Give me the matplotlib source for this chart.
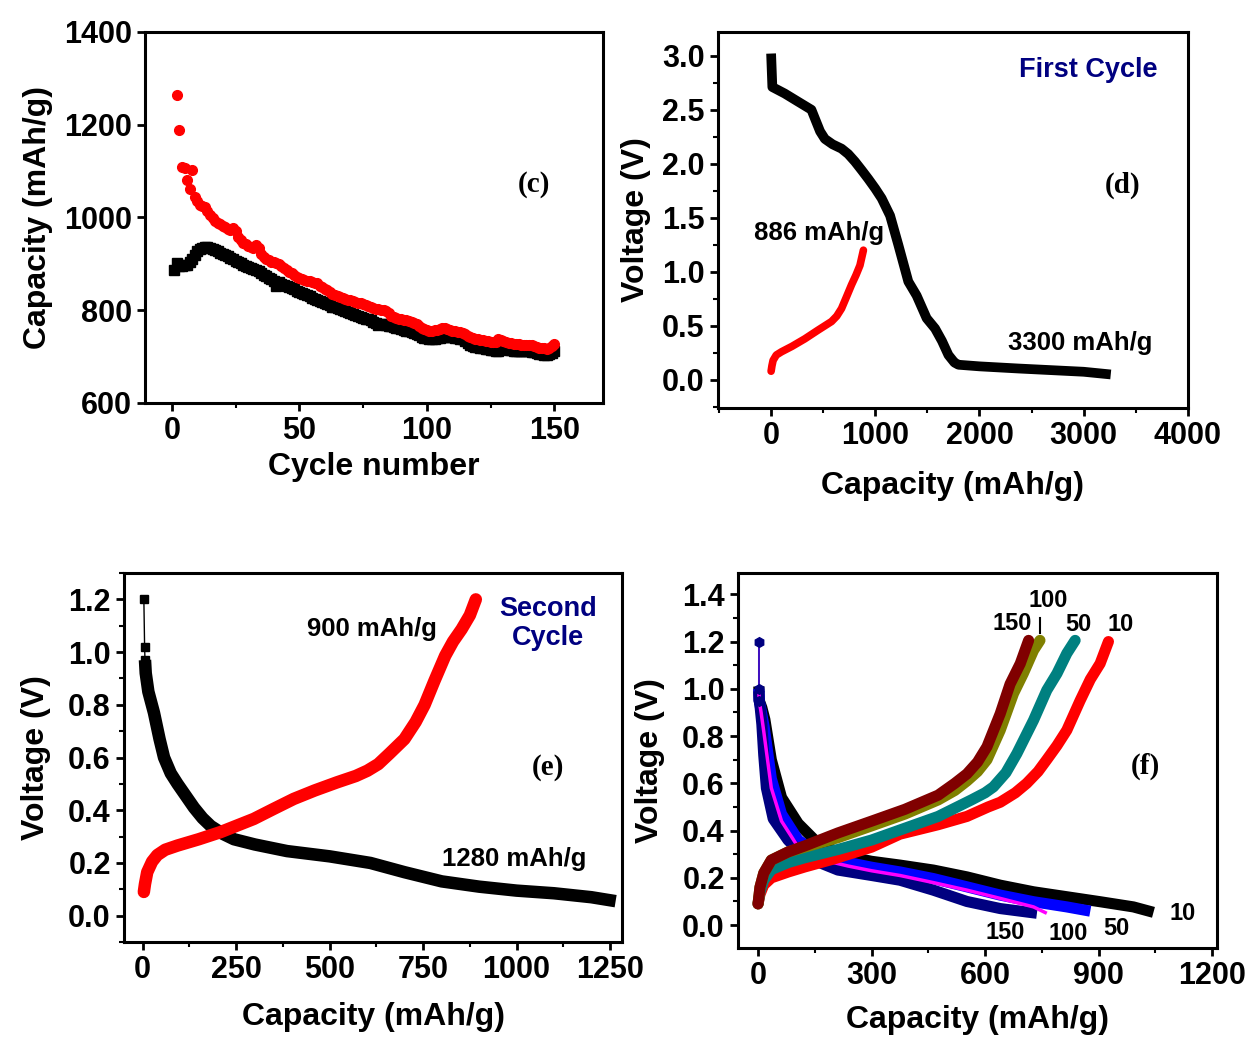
import numpy as np
import matplotlib
matplotlib.use('Agg')
import matplotlib.pyplot as plt
from matplotlib.ticker import MultipleLocator

plt.rcParams['font.family'] = ['Liberation Sans', 'DejaVu Sans']
plt.rcParams['font.weight'] = 'bold'

# ---- panel (c): capacity vs cycle number
cyc_dis = np.arange(1, 151)
cap_dis = [887, 902, 896, 895, 897, 898, 903, 910, 920, 928,
           932, 935, 937, 936, 934, 932, 930, 927, 924, 922,
           919, 916, 913, 910, 907, 904, 901, 898, 896, 893,
           891, 889, 887, 884, 880, 876, 873, 870, 867, 864,
           852, 860, 857, 855, 852, 850, 848, 845, 842, 840,
           838, 835, 832, 830, 827, 824, 822, 820, 818, 815,
           813, 811, 808, 806, 804, 802, 800, 798, 796, 794,
           792, 790, 788, 786, 784, 782, 780, 778, 775, 772,
           768, 770, 770, 768, 766, 765, 764, 762, 761, 760,
           758, 756, 755, 753, 751, 749, 746, 743, 741, 740,
           739, 739, 739, 740, 741, 742, 743, 744, 743, 742,
           741, 740, 739, 737, 733, 729, 726, 723, 721, 720,
           719, 718, 717, 716, 715, 714, 713, 712, 718, 717,
           716, 715, 714, 713, 713, 712, 712, 712, 711, 711,
           710, 709, 707, 706, 705, 704, 704, 705, 708, 711]
cyc_chg = np.arange(2, 151)
cap_chg = [1263, 1189, 1108, 1106, 1081, 1061, 1102, 1045, 1036,
           1027, 1024, 1023, 1014, 1005, 999, 993, 989, 985, 982,
           980, 975, 972, 977, 970, 958, 951, 946, 942, 939,
           937, 935, 941, 935, 922, 915, 911, 908, 905, 903,
           901, 899, 895, 890, 886, 883, 880, 876, 872, 869,
           868, 866, 864, 862, 860, 858, 859, 852, 849, 846,
           843, 840, 836, 833, 831, 829, 827, 825, 823, 822,
           820, 818, 816, 815, 813, 811, 809, 806, 804, 803,
           802, 801, 800, 799, 793, 788, 786, 784, 782, 780,
           779, 778, 777, 775, 773, 770, 766, 762, 759, 757,
           756, 756, 757, 758, 760, 761, 761, 760, 758, 756,
           755, 754, 753, 751, 748, 745, 743, 741, 739, 737,
           736, 735, 734, 733, 732, 731, 731, 739, 736, 733,
           731, 730, 729, 728, 727, 727, 726, 726, 726, 725,
           724, 722, 720, 719, 718, 718, 717, 719, 723, 727]

# ---- panel (d): first cycle
d_dis_cap = [0, 12, 131, 250, 387, 420, 470, 516, 590, 676, 740, 805, 870, 933,
             1000, 1061, 1142, 1221, 1317, 1397, 1493, 1574, 1640, 1702, 1760, 1798,
             2000, 2375, 3000, 3260]
d_dis_v = [3.02, 2.71, 2.65, 2.58, 2.50, 2.42, 2.30, 2.23, 2.18, 2.14, 2.09, 2.02,
           1.94, 1.86, 1.77, 1.68, 1.52, 1.25, 0.91, 0.78, 0.57, 0.475, 0.36, 0.23,
           0.16, 0.14, 0.125, 0.105, 0.075, 0.05]
d_chg_cap = [0, 8, 19, 50, 100, 200, 324, 450, 580, 630, 676, 720, 772, 815, 853, 886]
d_chg_v = [0.08, 0.13, 0.18, 0.23, 0.26, 0.31, 0.38, 0.46, 0.54, 0.59, 0.66, 0.76,
           0.88, 0.97, 1.06, 1.20]

# ---- panel (e): second cycle
e_dis_cap = [3, 5, 6, 8, 15, 30, 45, 57, 75, 93, 115, 137, 160, 182, 215, 244, 300, 386,
             500, 609, 700, 800, 900, 1000, 1100, 1200, 1265]
e_dis_v = [1.20, 1.02, 0.97, 0.92, 0.85, 0.77, 0.67, 0.60, 0.54, 0.50, 0.455, 0.41,
           0.37, 0.34, 0.31, 0.29, 0.27, 0.245, 0.225, 0.20, 0.165, 0.13, 0.11, 0.095,
           0.085, 0.07, 0.055]
e_chg_cap = [3, 6, 12, 25, 39, 60, 93, 150, 208, 297, 350, 404, 460, 520, 570, 601,
             630, 660, 700, 730, 754, 780, 809, 830, 853, 875, 891]
e_chg_v = [0.09, 0.12, 0.165, 0.205, 0.23, 0.25, 0.266, 0.29, 0.317, 0.367, 0.405,
           0.443, 0.475, 0.506, 0.53, 0.55, 0.575, 0.615, 0.67, 0.735, 0.80, 0.89,
           0.986, 1.04, 1.087, 1.14, 1.20]

# ---- panel (f): cycles 10, 50, 100, 150
f_labels = ['10', '50', '100', '150']
f_dis_cap = [
    [2, 2, 3, 10, 18, 35, 62, 106, 159, 238, 300, 375, 463, 552, 640, 728, 816, 904, 992, 1045],
    [2, 2, 3, 9, 16, 35, 62, 106, 159, 238, 300, 375, 463, 552, 640, 728, 816, 878],
    [2, 2, 3, 8, 15, 35, 62, 106, 159, 238, 300, 375, 463, 552, 640, 728, 763],
    [2, 2, 3, 5, 10, 15, 22, 40, 79, 123, 211, 300, 375, 463, 552, 640, 737],
]
f_dis_v = [
    [1.20, 1.01, 0.95, 0.92, 0.87, 0.70, 0.54, 0.43, 0.345, 0.29, 0.27, 0.254, 0.233, 0.204, 0.169, 0.141, 0.12, 0.099, 0.077, 0.054],
    [1.20, 1.0, 0.95, 0.90, 0.84, 0.62, 0.47, 0.36, 0.30, 0.265, 0.245, 0.225, 0.197, 0.162, 0.127, 0.099, 0.077, 0.059],
    [1.20, 1.0, 0.95, 0.90, 0.82, 0.58, 0.44, 0.33, 0.28, 0.25, 0.23, 0.21, 0.18, 0.148, 0.113, 0.077, 0.05],
    [1.20, 0.99, 0.95, 0.93, 0.85, 0.72, 0.58, 0.45, 0.36, 0.29, 0.233, 0.21, 0.19, 0.148, 0.10, 0.07, 0.05],
]
f_chg_cap = [
    [0, 5, 15, 35, 80, 123, 200, 300, 375, 476, 552, 608, 640, 680, 710, 740, 763, 790, 816, 851, 878, 904, 926],
    [0, 5, 15, 35, 80, 123, 211, 300, 388, 476, 564, 600, 622, 655, 684, 728, 763, 790, 816, 838],
    [0, 5, 15, 35, 80, 123, 211, 300, 388, 476, 520, 552, 580, 605, 640, 675, 701, 728, 745],
    [0, 5, 15, 35, 80, 123, 211, 300, 388, 476, 520, 552, 580, 605, 640, 666, 693, 715],
]
f_chg_v = [
    [0.09, 0.13, 0.17, 0.20, 0.225, 0.246, 0.28, 0.33, 0.385, 0.425, 0.46, 0.50, 0.52, 0.56, 0.60, 0.65, 0.70, 0.76, 0.825, 0.95, 1.04, 1.107, 1.20],
    [0.09, 0.14, 0.19, 0.235, 0.265, 0.285, 0.32, 0.36, 0.41, 0.46, 0.53, 0.56, 0.585, 0.645, 0.726, 0.867, 0.994, 1.065, 1.15, 1.205],
    [0.09, 0.16, 0.22, 0.275, 0.31, 0.33, 0.37, 0.42, 0.47, 0.53, 0.57, 0.61, 0.65, 0.70, 0.825, 0.98, 1.065, 1.163, 1.205],
    [0.09, 0.16, 0.22, 0.275, 0.31, 0.335, 0.39, 0.44, 0.49, 0.55, 0.60, 0.64, 0.69, 0.755, 0.895, 1.02, 1.107, 1.205],
]
f_dis_colors = ['black', '#0000ff', '#ff00ff', '#000080']
f_chg_colors = ['#ff0000', '#008080', '#808000', '#800000']
f_dis_widths = [8, 8, 2.5, 8]

TICK = 22
LAB = 23
NOTE = 18.5
NAVY = '#000080'


def style(ax):
    for s in ax.spines.values():
        s.set_linewidth(2.2)
    ax.tick_params(which='major', direction='out', length=6, width=2, labelsize=TICK,
                   top=False, right=False)
    ax.tick_params(which='minor', direction='out', length=3.5, width=1.5,
                   top=False, right=False)
    for lab in ax.get_xticklabels() + ax.get_yticklabels():
        lab.set_fontweight('bold')


fig = plt.figure(figsize=(12.53, 10.37), dpi=100)

# (c)
ax = fig.add_axes([0.1157, 0.6114, 0.3655, 0.3578])
ax.plot(cyc_dis, cap_dis, 's', color='black', markersize=6.5, zorder=2)
ax.plot(cyc_chg, cap_chg, 'o', color='red', markersize=7, zorder=3)
ax.set_xlim(-10.5, 169)
ax.set_ylim(600, 1400)
ax.xaxis.set_major_locator(MultipleLocator(50))
ax.xaxis.set_minor_locator(MultipleLocator(25))
ax.yaxis.set_major_locator(MultipleLocator(200))
ax.set_xlabel('Cycle number', fontsize=LAB, fontweight='bold', labelpad=4)
ax.set_ylabel('Capacity (mAh/g)', fontsize=LAB, fontweight='bold', labelpad=8)
ax.text(142, 1070, '(c)', fontsize=21, fontweight='bold', family='Liberation Serif',
        ha='center', va='center')
style(ax)

# (d)
ax = fig.add_axes([0.573, 0.6066, 0.375, 0.3626])
ax.plot(d_dis_cap, d_dis_v, '-', color='black', lw=7, solid_capstyle='butt')
ax.plot(d_chg_cap, d_chg_v, '-', color='red', lw=5.5, solid_capstyle='round')
ax.set_xlim(-510, 4000)
ax.set_ylim(-0.26, 3.22)
ax.xaxis.set_major_locator(MultipleLocator(1000))
ax.xaxis.set_minor_locator(MultipleLocator(500))
ax.yaxis.set_major_locator(MultipleLocator(0.5))
ax.yaxis.set_minor_locator(MultipleLocator(0.25))
ax.yaxis.set_major_formatter(plt.FormatStrFormatter('%.1f'))
ax.set_xlabel('Capacity (mAh/g)', fontsize=LAB, fontweight='bold', labelpad=14)
ax.set_ylabel('Voltage (V)', fontsize=LAB, fontweight='bold', labelpad=8)
ax.text(3048, 2.87, 'First Cycle', fontsize=19.5, fontweight='bold', color=NAVY,
        ha='center', va='center')
ax.text(462, 1.36, '886 mAh/g', fontsize=NOTE, fontweight='bold', ha='center', va='center')
ax.text(2962, 0.34, '3300 mAh/g', fontsize=NOTE, fontweight='bold', ha='center', va='center')
ax.text(3375, 1.80, '(d)', fontsize=21, fontweight='bold', family='Liberation Serif',
        ha='center', va='center')
style(ax)

# (e)
ax = fig.add_axes([0.099, 0.0916, 0.3974, 0.3558])
ax.plot(e_dis_cap[:3], e_dis_v[:3], '-s', color='black', lw=1, markersize=6)
ax.plot(e_dis_cap[2:], e_dis_v[2:], '-', color='black', lw=9, solid_capstyle='butt')
ax.plot(e_chg_cap, e_chg_v, '-', color='red', lw=9, solid_capstyle='round')
ax.set_xlim(-50, 1282)
ax.set_ylim(-0.10, 1.30)
ax.xaxis.set_major_locator(MultipleLocator(250))
ax.xaxis.set_minor_locator(MultipleLocator(125))
ax.yaxis.set_major_locator(MultipleLocator(0.2))
ax.yaxis.set_minor_locator(MultipleLocator(0.1))
ax.yaxis.set_major_formatter(plt.FormatStrFormatter('%.1f'))
ax.set_xlabel('Capacity (mAh/g)', fontsize=LAB, fontweight='bold', labelpad=12)
ax.set_ylabel('Voltage (V)', fontsize=LAB, fontweight='bold', labelpad=12)
ax.text(614, 1.087, '900 mAh/g', fontsize=NOTE, fontweight='bold', ha='center', va='center')
ax.text(1084, 1.107, 'Second\nCycle', fontsize=19.5, fontweight='bold', color=NAVY,
        ha='center', va='center', linespacing=1.15)
ax.text(1084, 0.564, '(e)', fontsize=21, fontweight='bold', family='Liberation Serif',
        ha='center', va='center')
ax.text(994, 0.216, '1280 mAh/g', fontsize=NOTE, fontweight='bold', ha='center', va='center')
style(ax)

# (f)
ax = fig.add_axes([0.589, 0.0858, 0.3823, 0.3616])
for i in range(4):
    x = f_dis_cap[i]
    y = f_dis_v[i]
    ax.plot(x[:3], y[:3], '-', color='#4010c0', lw=1.2, zorder=2)
    ax.plot(x[1:], y[1:], '-', color=f_dis_colors[i], lw=f_dis_widths[i],
            solid_capstyle='butt', zorder=2 + (i == 2) * 0.5)
ax.plot([2, 2, 3], [1.2, 1.0, 0.95], 'h', color=NAVY, markersize=7, zorder=4)
for i in range(4):
    ax.plot(f_chg_cap[i], f_chg_v[i], '-', color=f_chg_colors[i], lw=8,
            solid_capstyle='round', zorder=3)
ax.set_xlim(-53, 1213)
ax.set_ylim(-0.097, 1.49)
ax.xaxis.set_major_locator(MultipleLocator(300))
ax.xaxis.set_minor_locator(MultipleLocator(150))
ax.yaxis.set_major_locator(MultipleLocator(0.2))
ax.yaxis.set_minor_locator(MultipleLocator(0.1))
ax.yaxis.set_major_formatter(plt.FormatStrFormatter('%.1f'))
ax.set_xlabel('Capacity (mAh/g)', fontsize=LAB, fontweight='bold', labelpad=10)
ax.set_ylabel('Voltage (V)', fontsize=LAB, fontweight='bold', labelpad=12)
top_pos = [(957, 1.273), (846, 1.273), (767, 1.375), (671, 1.277)]
bot_pos = [(1121, 0.05), (946, -0.013), (819, -0.034), (653, -0.03)]
for lab, (tx, ty), (bx, by) in zip(f_labels, top_pos, bot_pos):
    ax.text(tx, ty, lab, fontsize=17, fontweight='bold', ha='center', va='center')
    ax.text(bx, by, lab, fontsize=17, fontweight='bold', ha='center', va='center')
ax.plot([745, 745], [1.235, 1.30], color='black', lw=1.5)
ax.text(1023, 0.673, '(f)', fontsize=21, fontweight='bold', family='Liberation Serif',
        ha='center', va='center')
style(ax)

fig.savefig('out.png', dpi=100)
